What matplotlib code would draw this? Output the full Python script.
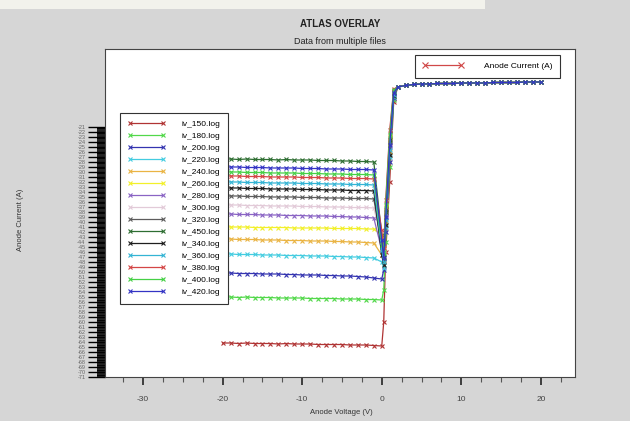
import numpy as np
import matplotlib
matplotlib.use('Agg')
import matplotlib.pyplot as plt
from matplotlib.lines import Line2D

plt.rcParams['font.family'] = ['Liberation Sans', 'DejaVu Sans']
plt.rcParams['axes.unicode_minus'] = False

# voltage sweep points (V)
v_rev = [-20, -19, -18, -17, -16, -15, -14, -13, -12, -11, -10,
         -9, -8, -7, -6, -5, -4, -3, -2, -1, 0]
v_mid = [0.25, 0.5, 1.0, 1.5]
v_fwd = [2, 3, 4, 5, 6, 7, 8, 9, 10, 11, 12, 13, 14, 15, 16, 17, 18, 19, 20]

files = ['iv_150.log', 'iv_180.log', 'iv_200.log', 'iv_220.log', 'iv_240.log',
         'iv_260.log', 'iv_280.log', 'iv_300.log', 'iv_320.log', 'iv_450.log',
         'iv_340.log', 'iv_360.log', 'iv_380.log', 'iv_400.log', 'iv_420.log']

colors = ['#b03434', '#52d84a', '#3434b0', '#44cce0', '#eab444',
          '#f2f02a', '#8a64c4', '#e2cad8', '#5c5c5c', '#2e6e32',
          '#1e1e1e', '#34b4d4', '#d44646', '#46d046', '#3434c4']

# anode current, reverse part (axis units)
i_rev = [
    [-64.2, -64.2, -64.3, -64.2, -64.3, -64.3, -64.3, -64.4, -64.3, -64.4, -64.4,
     -64.4, -64.5, -64.5, -64.5, -64.5, -64.6, -64.6, -64.6, -64.7, -64.8],
    [-55.0, -55.0, -55.1, -55.0, -55.1, -55.1, -55.1, -55.2, -55.2, -55.2, -55.2,
     -55.3, -55.3, -55.3, -55.3, -55.4, -55.4, -55.4, -55.5, -55.5, -55.6],
    [-50.2, -50.2, -50.3, -50.3, -50.3, -50.4, -50.4, -50.4, -50.5, -50.5, -50.6,
     -50.6, -50.6, -50.7, -50.7, -50.8, -50.8, -50.9, -51.0, -51.2, -51.4],
    [-46.4, -46.4, -46.5, -46.5, -46.5, -46.6, -46.6, -46.6, -46.7, -46.7, -46.7,
     -46.8, -46.8, -46.8, -46.9, -46.9, -47.0, -47.0, -47.1, -47.2, -48.0],
    [-43.4, -43.4, -43.5, -43.5, -43.5, -43.6, -43.6, -43.6, -43.7, -43.7, -43.7,
     -43.8, -43.8, -43.8, -43.9, -43.9, -44.0, -44.0, -44.1, -44.2, -46.6],
    [-41.0, -41.0, -41.0, -41.0, -41.1, -41.1, -41.1, -41.1, -41.1, -41.2, -41.2,
     -41.2, -41.2, -41.2, -41.3, -41.3, -41.3, -41.3, -41.4, -41.4, -42.6],
    [-38.4, -38.4, -38.5, -38.5, -38.5, -38.6, -38.6, -38.6, -38.7, -38.7, -38.7,
     -38.8, -38.8, -38.8, -38.9, -38.9, -39.0, -39.0, -39.1, -39.2, -45.6],
    [-36.6, -36.6, -36.6, -36.7, -36.7, -36.7, -36.8, -36.8, -36.8, -36.8, -36.9,
     -36.9, -36.9, -37.0, -37.0, -37.0, -37.1, -37.1, -37.1, -37.2, -43.6],
    [-34.8, -34.8, -34.8, -34.9, -34.9, -34.9, -35.0, -35.0, -35.0, -35.0, -35.1,
     -35.1, -35.1, -35.2, -35.2, -35.2, -35.3, -35.3, -35.3, -35.4, -44.6],
    [-27.4, -27.4, -27.5, -27.4, -27.5, -27.5, -27.5, -27.6, -27.5, -27.6, -27.6,
     -27.6, -27.7, -27.7, -27.7, -27.8, -27.8, -27.9, -27.9, -28.0, -42.6],
    [-33.2, -33.2, -33.2, -33.3, -33.3, -33.3, -33.4, -33.4, -33.4, -33.4, -33.5,
     -33.5, -33.5, -33.6, -33.6, -33.6, -33.7, -33.7, -33.7, -33.8, -46.6],
    [-32.0, -32.0, -32.0, -32.1, -32.1, -32.1, -32.2, -32.2, -32.2, -32.2, -32.3,
     -32.3, -32.3, -32.4, -32.4, -32.4, -32.5, -32.5, -32.5, -32.6, -45.6],
    [-30.8, -30.8, -30.8, -30.9, -30.9, -30.9, -31.0, -31.0, -31.0, -31.0, -31.1,
     -31.1, -31.1, -31.2, -31.2, -31.2, -31.3, -31.3, -31.3, -31.4, -41.6],
    [-30.0, -30.0, -30.0, -30.1, -30.1, -30.1, -30.2, -30.2, -30.2, -30.2, -30.3,
     -30.3, -30.3, -30.4, -30.4, -30.4, -30.5, -30.5, -30.5, -30.6, -44.6],
    [-29.0, -29.0, -29.0, -29.1, -29.1, -29.1, -29.2, -29.2, -29.2, -29.2, -29.3,
     -29.3, -29.3, -29.4, -29.4, -29.4, -29.5, -29.5, -29.5, -29.6, -43.6],
]

# turn-on region, v = 0.25, 0.5, 1.0, 1.5
i_mid = [
    [-60.0, -46.0, -32.0, -16.0],
    [-53.6, -44.0, -29.0, -15.6],
    [-49.6, -42.0, -28.0, -15.2],
    [-49.2, -41.0, -27.0, -15.0],
    [-48.0, -40.0, -26.0, -14.6],
    [-45.2, -37.0, -23.0, -13.8],
    [-47.2, -38.6, -25.0, -14.4],
    [-45.6, -36.0, -22.0, -13.6],
    [-47.6, -37.6, -24.0, -14.0],
    [-47.0, -38.0, -23.6, -13.8],
    [-48.6, -40.6, -26.6, -14.8],
    [-48.0, -39.6, -25.6, -14.6],
    [-45.2, -35.6, -21.6, -13.4],
    [-46.0, -36.6, -22.6, -13.6],
    [-47.2, -39.0, -24.6, -14.2],
]

# forward part, all files overlap
i_fwd = [-13.0, -12.7, -12.5, -12.4, -12.4, -12.3, -12.3, -12.3, -12.2, -12.2,
         -12.2, -12.2, -12.1, -12.1, -12.1, -12.1, -12.0, -12.0, -12.0]

ytick_vals = list(range(-71, -20))

fig = plt.figure(figsize=(6.3, 4.21), dpi=100, facecolor='#d6d6d6')
ax = fig.add_axes([105/630, 1-377/421, 470/630, 328/421])
ax.set_facecolor('white')

for k in range(len(files)):
    x = v_rev + v_mid + v_fwd
    y = i_rev[k] + i_mid[k] + i_fwd
    ax.plot(x, y, color=colors[k], lw=0.9, marker='x', ms=3.5, mew=0.8, label=files[k])

ax.set_xlim(-34.8, 24.3)
ax.set_ylim(-71, -5.4)
ax.set_xticks([-30, -20, -10, 0, 10, 20])
ax.set_xticks(np.arange(-32.5, 24, 2.5), minor=True)
ax.set_yticks(ytick_vals)
ax.set_yticklabels([str(v) for v in ytick_vals])
ax.set_yticks(np.arange(-71, -21, 0.25), minor=True)
ax.tick_params(axis='x', which='major', length=6, width=1.3, color='#333333',
               labelsize=6, labelcolor='#444444', pad=8)
ax.tick_params(axis='x', which='minor', length=3.5, width=0.8, color='#555555')
ax.tick_params(axis='y', which='major', length=12, width=1.0, color='black',
               labelsize=4, labelcolor='#666666', pad=2)
ax.tick_params(axis='y', which='minor', length=6, width=1.2, color='black')
for s in ax.spines.values():
    s.set_color('#444444')
    s.set_linewidth(0.8)

leg = ax.legend(loc='upper left', bbox_to_anchor=(0.032, 0.805), borderaxespad=0,
                fontsize=6, numpoints=2, handlelength=4.6, handletextpad=1.9,
                labelspacing=0.5, borderpad=0.9, fancybox=False, framealpha=1,
                edgecolor='#333333')
leg.get_frame().set_linewidth(0.8)
ax.add_artist(leg)

h = Line2D([], [], color='#d04848', lw=0.9, marker='x', ms=4, mew=0.8)
leg2 = ax.legend([h], ['Anode Current (A)'], loc='upper right',
                 bbox_to_anchor=(0.968, 0.982), borderaxespad=0, fontsize=6,
                 numpoints=2, handlelength=5.0, handletextpad=2.4, borderpad=0.9,
                 fancybox=False, framealpha=1, edgecolor='#333333')
leg2.get_frame().set_linewidth(0.8)

fig.text(340/630, 1-24/421, 'ATLAS OVERLAY', ha='center', va='center',
         fontsize=7, fontweight='bold', color='#222222')
fig.text(340/630, 1-41/421, 'Data from multiple files', ha='center', va='center',
         fontsize=6.5, color='#222222')
fig.text(341/630, 1-413/421, 'Anode Voltage (V)', ha='center', va='center',
         fontsize=5.5, color='#333333')
fig.text(21/630, 1-220/421, 'Anode Current (A)', ha='center', va='center',
         rotation=90, fontsize=5.5, color='#333333')

# light strip at the top of the screenshot
fig.patches.append(plt.Rectangle((0, 1-9/421), 485/630, 9/421, transform=fig.transFigure,
                                 facecolor='#f2f2ec', edgecolor='none', zorder=0))

fig.savefig('out.png', dpi=100, facecolor=fig.get_facecolor())
